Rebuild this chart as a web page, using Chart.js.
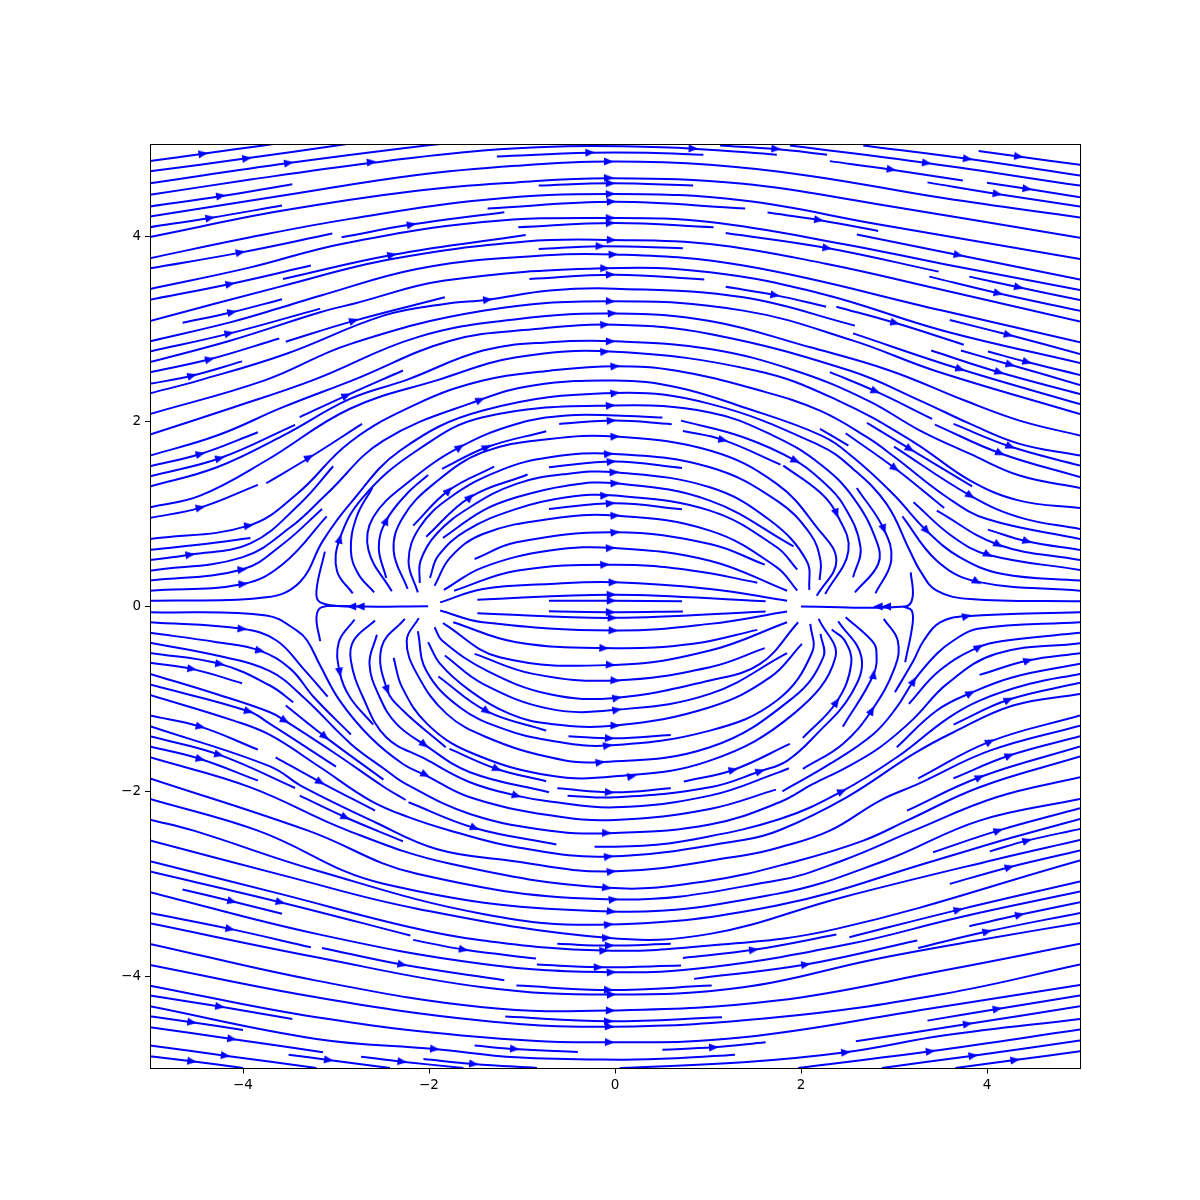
<!DOCTYPE html>
<html><head><meta charset="utf-8"><style>html,body{margin:0;padding:0;background:#fff}#w{width:1200px;height:1200px}</style>
<script src="https://cdn.jsdelivr.net/npm/chart.js@4"></script></head>
<body><div id="w"><canvas id="c" width="1200" height="1200"></canvas></div>
<script>
const tickValues=[-4,-2,0,2,4];
const upperOuterLines=[
[[-5,4.82],[-4.43,4.90],[-3.78,4.99],[-3.5,5.03]],
[[-5,4.71],[-3.96,4.85],[-2.99,4.99],[-2.7,5.03]],
[[-5,4.58],[-3.51,4.80],[-2.03,4.99],[-1.7,5.02]],
[[-5,4.455],[-3.92,4.62],[-2.63,4.80],[-1.42,4.935],[-0.52,4.98],[0.09,4.98],[0.84,4.955],[1.74,4.89]],
[[-1.27,4.87],[-0.27,4.91],[0.35,4.91],[0.95,4.89]],
[[-5,4.33],[-4.24,4.44],[-3.47,4.57]],
[[-5,4.22],[-3.57,4.447],[-2.13,4.67],[-1.06,4.77],[-0.07,4.815],[1.02,4.78],[2.10,4.66],[3.53,4.42],[5,4.21]],
[[-5,4.105],[-4.355,4.205],[-3.58,4.34]],
[[-5,4.0],[-3.57,4.285],[-2.13,4.5],[-1.06,4.59],[-0.05,4.635],[1.38,4.575],[2.81,4.357],[5,3.99]],
[[-0.82,4.555],[-0.05,4.58],[0.84,4.556]],
[[-5,3.66],[-4.03,3.83],[-3.04,4.036]],
[[-5,3.77],[-3.92,3.996],[-2.85,4.195],[-1.42,4.40],[0,4.465],[1.38,4.393],[2.81,4.14],[5,3.76]],
[[-2.94,3.996],[-2.19,4.133],[-1.19,4.267]],
[[-1.37,4.307],[0,4.38],[1.40,4.307]],
[[1.64,4.263],[2.19,4.184],[2.83,4.065]],
[[2.31,4.82],[2.96,4.73],[3.74,4.61]],
[[3.36,4.59],[4.11,4.465],[5,4.33]],
[[4.0,4.585],[4.43,4.52],[5,4.43]],
[[3.91,4.93],[4.34,4.87],[5,4.78]],
[[1.13,4.99],[1.73,4.95],[2.28,4.89]],
[[1.88,4.99],[3.35,4.80],[5,4.555]],
[[2.67,4.99],[3.79,4.845],[5,4.664]],
[[-5,3.436],[-3.92,3.67],[-2.94,3.924],[-1.42,4.16],[0,4.205],[1.02,4.16],[2.45,3.924],[3.53,3.707],[5,3.426]],
[[-1.04,4.104],[0,4.15],[1.06,4.104]],
[[-5,3.32],[-4.14,3.49],[-3.27,3.69]],
[[-3.57,3.545],[-2.40,3.805],[-0.96,4.02]],
[[-5,3.09],[-3.57,3.47],[-2.40,3.76],[-0.96,3.95],[-0.05,3.967],[1.02,3.924],[2.28,3.707],[3.48,3.436],[5,3.085]],
[[-0.82,3.87],[-0.16,3.9],[0.73,3.877]],
[[1.19,4.043],[2.28,3.88],[3.48,3.624]],
[[2.60,4.025],[3.69,3.805],[5,3.538]],
[[3.81,3.57],[4.34,3.455],[5,3.317]],
[[3.38,3.57],[4.12,3.39],[5,3.2]],
[[-4.65,3.07],[-4.12,3.185],[-3.58,3.325]],
[[-5,2.87],[-4.14,3.075],[-3.58,3.238],[-3.17,3.364],[-2.13,3.653],[-1.06,3.78],[0,3.81],[1.38,3.69],[3.53,3.2],[5,2.859]],
[[-5,2.76],[-4.14,2.956],[-3.17,3.224]],
[[-5,2.645],[-4.14,2.876],[-3.17,3.184],[-2.80,3.28],[-1.83,3.527],[-0.13,3.66],[1.02,3.617],[2.24,3.38],[3.53,2.985],[5,2.635]],
[[-3.54,2.866],[-2.80,3.094],[-1.83,3.346]],
[[-0.92,3.545],[0,3.59],[0.96,3.54]],
[[-5,2.535],[-4.36,2.675],[-3.61,2.90]],
[[-5,2.41],[-4.56,2.495],[-4.01,2.653]],
[[-5,2.307],[-4.46,2.45],[-3.54,2.733],[-2.49,3.148],[-1.83,3.274],[-1.37,3.32],[-0.70,3.42],[0,3.44],[1.38,3.346],[2.58,3.04]],
[[1.19,3.46],[1.72,3.37],[2.27,3.245]],
[[2.38,3.245],[3.01,3.07],[3.75,2.833]],
[[3.60,3.10],[4.23,2.94],[5,2.733]],
[[4.01,2.76],[4.43,2.646],[5,2.505]],
[[3.72,2.77],[4.25,2.617],[5,2.397]],
[[3.40,2.77],[4.13,2.535],[5,2.30]],
[[2.56,2.956],[3.71,2.57],[5,2.19]],
[[-5,2.083],[-3.76,2.45],[-2.85,2.84],[-1.42,3.2],[-0.05,3.303],[1.38,3.202],[2.56,2.877],[3.44,2.552],[5,2.083]],
[[-5,1.86],[-4.10,2.157],[-3.24,2.453],[-2.13,2.913],[-1.06,3.11],[0,3.17],[1.02,3.09],[2.10,2.805],[2.96,2.552],[3.76,2.229],[4.35,2.012],[5,1.85]],
[[-5,1.633],[-4.28,1.85],[-3.57,2.157],[-2.81,2.453],[-1.77,2.877],[-0.88,3.0],[0,3.05],[1.02,2.95],[2.53,2.552],[3.28,2.229],[3.82,1.976],[4.35,1.76],[5,1.633]],
[[-5,1.518],[-4.46,1.65],[-3.84,1.886]],
[[-5,1.41],[-4.25,1.604],[-3.44,1.966]],
[[-3.39,2.05],[-2.89,2.283],[-2.28,2.554]],
[[-5,1.298],[-4.28,1.507],[-3.57,1.85],[-2.85,2.247],[-2.24,2.453],[-1.42,2.77],[-0.70,2.86],[0,2.87],[1.02,2.787],[1.94,2.552],[2.72,2.229],[3.28,1.904],[3.82,1.651],[4.35,1.417],[5,1.283]],
[[-5,1.074],[-4.46,1.2],[-3.75,1.58],[-2.85,2.14],[-1.90,2.453],[-1.06,2.697],[0,2.757],[1.52,2.552],[2.40,2.229],[3.21,1.78],[3.82,1.363],[4.35,1.146],[5,1.067]],
[[-5,0.958],[-4.46,1.07],[-3.84,1.316]],
[[-3.75,1.334],[-3.28,1.615],[-2.72,1.976]],
[[2.31,2.536],[2.80,2.33],[3.41,2.03]]
];
const upperInnerLines=[
[[-5,0.73],[-3.94,0.875],[-3.42,1.218],[-2.85,1.778],[-2.13,2.193],[-1.42,2.446],[-0.70,2.552],[0,2.6],[0.663,2.552],[1.56,2.337],[2.204,2.12],[2.71,1.832],[3.01,1.615],[3.57,1.182],[4.0,0.947],[5,0.731]],
[[-5,0.615],[-4.46,0.67],[-3.92,0.742]],
[[-5,0.503],[-4.57,0.561],[-3.92,0.684],[-3.39,1.11],[-3.03,1.518]],
[[-5,0.388],[-4.01,0.532],[-3.49,0.857],[-3.10,1.218],[-2.49,1.796],[-1.45,2.236],[-0.88,2.392],[0,2.446],[0.663,2.373],[1.38,2.157],[2.22,1.85],[2.56,1.615],[2.99,1.218],[3.35,0.821],[3.71,0.532],[4.17,0.352],[5,0.28]],
[[-5,0.28],[-4.01,0.4],[-3.57,0.677],[-3.15,1.056]],
[[-5,0.171],[-4.0,0.244],[-3.57,0.46],[-3.1,0.976]],
[[-5,0.063],[-3.75,0.099],[-3.39,0.262],[-3.14,0.713],[-2.85,1.11],[-2.31,1.688],[-1.42,2.121],[0,2.31],[1.02,2.193],[2.204,1.742],[2.56,1.489],[2.92,1.11],[3.17,0.604],[3.28,0.388],[3.46,0.171],[3.82,0.081],[5,0.056]],
[[-2.82,0.142],[-2.99,0.388],[-2.96,0.731],[-2.71,1.182],[-2.13,1.688],[-1.42,2.049],[0,2.175],[1.02,2.10],[1.7,1.85],[2.204,1.543],[2.56,1.182],[2.81,0.713],[2.83,0.46],[2.58,0.153]],
[[-2.61,1.283],[-2.78,0.966],[-2.84,0.605],[-2.76,0.352],[-2.59,0.153]],
[[-2.40,0.164],[-2.65,0.605],[-2.60,0.966],[-2.20,1.363],[-1.67,1.724],[-1.06,1.976],[-0.52,2.067],[0,2.067],[0.51,2.045]],
[[-2.46,0.309],[-2.54,0.641],[-2.46,0.93],[-2.24,1.218],[-2.01,1.424]],
[[-1.86,1.489],[-1.38,1.724],[-0.74,1.897]],
[[-0.60,1.976],[0,2.012],[0.61,1.973]],
[[-2.23,0.19],[-2.38,0.605],[-2.28,0.966],[-1.95,1.327],[-1.42,1.67],[-0.70,1.814],[0,1.839],[1.02,1.688],[1.74,1.327],[2.17,0.857],[2.38,0.496],[2.17,0.117]],
[[-2.17,0.875],[-1.79,1.254],[-1.30,1.514]],
[[-2.12,0.153],[-2.22,0.496],[-2.10,0.857],[-1.77,1.182],[-1.24,1.471],[-0.70,1.615],[0,1.651],[1.02,1.507],[1.74,1.146],[2.10,0.785],[2.21,0.496],[2.2,0.287]],
[[-2.03,0.756],[-1.56,1.182],[-0.94,1.428]],
[[-0.71,1.507],[0,1.568],[0.72,1.5]],
[[-2.10,0.254],[-2.09,0.496],[-1.92,0.785],[-1.56,1.074],[-1.06,1.327],[-0.52,1.435],[0,1.453],[1.02,1.29],[1.67,0.93],[2.06,0.496],[2.09,0.179]],
[[-1.85,0.742],[-1.42,1.038],[-1.06,1.182],[-0.52,1.308],[0,1.334],[1.02,1.146],[1.92,0.651]],
[[-1.99,0.309],[-1.90,0.55],[-1.6,0.821],[-1.06,1.056],[-0.52,1.182],[0,1.2],[1.02,1.038],[1.74,0.641],[1.96,0.399]],
[[-0.71,1.056],[0,1.117],[0.72,1.052]],
[[-1.94,0.225],[-1.77,0.532],[-1.42,0.785],[-0.70,0.948],[0,0.984],[1.02,0.821],[1.74,0.424],[1.96,0.171]],
[[-1.51,0.514],[-1.06,0.695],[0,0.803],[1.02,0.677],[1.61,0.453]],
[[-1.84,0.179],[-1.42,0.424],[-0.70,0.605],[0,0.633],[1.02,0.496],[1.85,0.171]],
[[-1.73,0.171],[-1.06,0.388],[0,0.453],[0.84,0.388],[1.53,0.258]],
[[-1.88,0.045],[-1.42,0.19],[-0.70,0.244],[0,0.262],[1.02,0.19],[1.85,0.063]],
[[-1.48,0.074],[0,0.128],[1.62,0.056]],
[[-0.71,0.063],[0,0.063],[0.72,0.056]],
[[0.71,2.012],[1.38,1.832],[1.94,1.579],[2.204,1.38],[2.45,1.11],[2.64,0.641],[2.56,0.316]],
[[0.73,1.9],[1.16,1.803],[1.78,1.536]],
[[1.81,1.525],[2.204,1.236],[2.38,1.009],[2.51,0.605],[2.26,0.135]],
[[2.60,1.283],[2.89,0.839],[2.97,0.496],[2.8,0.142]],
[[2.204,1.922],[2.51,1.742]],
[[2.48,1.875],[3.01,1.496],[3.54,1.066]],
[[2.71,1.987],[3.17,1.705],[3.84,1.301]],
[[3.0,1.731],[3.82,1.2],[4.35,0.965],[5,0.839]],
[[3.44,1.969],[4.14,1.659],[5,1.4]],
[[3.64,1.976],[4.25,1.731],[5,1.525]],
[[4.01,0.832],[4.43,0.706],[5,0.612]],
[[3.46,1.038],[4.12,0.669],[5,0.503]],
[[3.21,1.128],[3.64,0.749],[4.01,0.561],[5,0.395]],
[[3.09,0.976],[3.46,0.496],[3.89,0.269],[5,0.171]],
[[3.18,0.37],[3.2,0.1],[3.12,0.0],[2.0,0]],
[[-3.12,0.594],[-3.21,0.171],[-3.17,0.045],[-2.85,0.002],[-2.01,0.002]]
];
const lowerInnerLines=[
[[-3.17,-0.375],[-3.21,-0.115],[-3.15,-0.007],[-2.85,0]],
[[3.12,-0.603],[3.2,-0.188],[3.19,-0.043],[3.1,0]],
[[-5,-0.061],[-3.75,-0.097],[-3.42,-0.26],[-3.31,-0.368],[-3.17,-0.639],[-2.96,-1.018],[-2.63,-1.415],[-2.28,-1.704],[-2.03,-1.83],[-1.56,-2.065],[-0.70,-2.26],[0,-2.311],[1.02,-2.191],[1.73,-1.982]],
[[-5,-0.17],[-4.01,-0.242],[-3.64,-0.368],[-3.35,-0.675],[-3.09,-0.975]],
[[-5,-0.285],[-4.28,-0.386],[-3.82,-0.477],[-3.49,-0.675],[-3.24,-0.98],[-2.84,-1.386]],
[[-5,-0.393],[-4.28,-0.531],[-3.71,-0.70],[-3.35,-0.982],[-2.84,-1.487],[-2.48,-1.758],[-2.25,-1.92],[-1.56,-2.245],[-0.70,-2.426],[0,-2.451],[1.02,-2.36],[1.77,-2.119],[2.13,-1.92],[2.49,-1.74],[2.85,-1.523],[3.21,-1.216],[3.57,-0.837],[4.10,-0.512],[5,-0.397]],
[[-5,-0.502],[-4.25,-0.621],[-3.71,-0.855],[-3.46,-1.036]],
[[-3.54,-1.072],[-3.12,-1.408],[-2.49,-1.874]],
[[-5,-0.61],[-4.55,-0.675],[-4.01,-0.83]],
[[-5,-0.729],[-4.28,-0.95],[-3.71,-1.144],[-3.55,-1.235],[-3,-1.596],[-2.48,-1.956],[-2.25,-2.094]],
[[-5,-0.845],[-3.94,-1.134],[-3.71,-1.27],[-3,-1.733]],
[[-2.80,-0.141],[-2.97,-0.386],[-2.96,-0.711],[-2.85,-0.982],[-2.60,-1.278]],
[[-2.58,-0.152],[-2.81,-0.368],[-2.84,-0.585],[-2.71,-0.982],[-2.46,-1.415],[-2.04,-1.65],[-1.56,-1.902],[-1.06,-2.047],[-0.70,-2.11],[0,-2.173],[1.02,-2.047],[1.76,-1.795],[1.87,-1.75]],
[[-2.56,-0.307],[-2.64,-0.621],[-2.53,-0.982],[-2.35,-1.27],[-2.05,-1.494],[-1.56,-1.794],[-0.71,-2.011]],
[[-0.51,-2.047],[0,-2.065],[1.02,-1.957],[1.56,-1.783],[1.85,-1.67],[2.17,-1.379],[2.54,-0.946],[2.65,-0.549],[2.40,-0.159]],
[[-2.26,-0.134],[-2.51,-0.44],[-2.45,-0.902],[-2.28,-1.126],[-1.82,-1.523]],
[[-2.38,-0.556],[-2.29,-0.873],[-2.02,-1.27],[-1.56,-1.577],[-0.70,-1.83],[0,-1.838],[1.02,-1.668],[1.92,-1.162],[2.37,-0.549],[2.19,-0.134]],
[[-1.78,-1.541],[-1.27,-1.758],[-0.74,-1.891]],
[[-0.62,-1.968],[0,-2.011],[0.60,-1.968]],
[[-0.71,-0.051],[0,-0.061],[0.73,-0.054]],
[[-1.48,-0.072],[0,-0.123],[1.62,-0.054]],
[[-1.88,-0.043],[-1.42,-0.17],[0,-0.26],[1.02,-0.188],[1.85,-0.054]],
[[-1.74,-0.17],[-1.06,-0.386],[0,-0.451],[0.84,-0.404],[1.53,-0.253]],
[[-1.85,-0.18],[-1.24,-0.549],[0,-0.632],[1.02,-0.477],[1.85,-0.17]],
[[-1.51,-0.513],[-0.88,-0.729],[0,-0.801],[1.02,-0.657],[1.61,-0.451]],
[[-1.94,-0.224],[-1.86,-0.368],[-1.38,-0.693],[-0.70,-0.95],[0,-0.989],[1.02,-0.8],[1.56,-0.621],[1.97,-0.17]],
[[-1.83,-0.53],[-1.42,-0.837],[-0.70,-1.108],[0,-1.119],[1.02,-0.946],[1.85,-0.505]],
[[-2.01,-0.386],[-1.88,-0.621],[-1.56,-0.91],[-1.13,-1.162],[-0.70,-1.27],[0,-1.289],[1.02,-1.09],[1.67,-0.765],[2.01,-0.404]],
[[-1.90,-0.758],[-1.38,-1.133],[-0.74,-1.343]],
[[-0.50,-1.404],[0,-1.426],[0.60,-1.39]],
[[-2.12,-0.267],[-2.03,-0.693],[-1.67,-1.09],[-1.2,-1.325],[-0.70,-1.45],[-0.08,-1.505],[1.02,-1.343],[1.74,-1.018],[2.12,-0.495],[2.10,-0.188]],
[[-2.11,-0.126],[-2.24,-0.368],[-2.13,-0.729],[-1.81,-1.162],[-1.38,-1.415],[-0.70,-1.632],[-0.18,-1.686],[1.02,-1.524],[1.92,-0.982],[2.24,-0.549],[2.21,-0.296]],
[[0.74,-1.895],[1.27,-1.769],[1.88,-1.487]],
[[2.02,-1.422],[2.38,-1.036],[2.54,-0.621],[2.47,-0.368],[2.33,-0.25]],
[[2.45,-1.3],[2.78,-0.736],[2.81,-0.476],[2.76,-0.368],[2.48,-0.116]],
[[2.02,-1.758],[2.45,-1.487],[2.76,-1.126],[3.01,-0.657],[3.04,-0.368],[2.89,-0.134]],
[[1.80,-2.0],[2.31,-1.704],[2.78,-1.379],[3.03,-1.09],[3.21,-0.808],[3.46,-0.512],[3.64,-0.368],[3.9,-0.24],[5,-0.17]],
[[3.01,-0.928],[3.21,-0.585],[3.32,-0.368],[3.5,-0.17],[3.78,-0.105],[5,-0.061]],
[[3.16,-1.054],[3.49,-0.693],[3.91,-0.44],[4.21,-0.368],[5,-0.285]],
[[3.92,-0.74],[4.44,-0.585],[5,-0.505]],
[[3.03,-1.523],[3.46,-1.126],[3.82,-0.938],[4.28,-0.765],[5,-0.62]],
[[3.64,-1.278],[4.23,-1.01],[5,-0.826]],
[[3.26,-1.859],[4.03,-1.462],[5,-1.18]],
[[3.64,-1.859],[4.24,-1.613],[5,-1.404]],
[[3.14,-2.209],[3.92,-1.848],[5,-1.516]]
];
const lowerOuterLines=[
[[-5,-0.957],[-4.10,-1.235],[-3.71,-1.39],[-3.17,-1.74],[-2.63,-2.10],[-2.22,-2.28],[-1.77,-2.426],[-1.06,-2.605],[-0.07,-2.706],[1.38,-2.527],[1.774,-2.419],[2.49,-2.065],[3.21,-1.595],[3.64,-1.361],[4.28,-1.072],[5,-0.946]],
[[-5,-1.18],[-4.46,-1.3],[-3.84,-1.549]],
[[-3.65,-1.632],[-3.17,-1.9],[-2.58,-2.209]],
[[-5,-1.296],[-3.71,-1.73],[-3.35,-1.956],[-2.58,-2.335],[-1.92,-2.624],[-1.18,-2.743],[-0.04,-2.868],[1.38,-2.695],[1.774,-2.606],[2.31,-2.426],[2.85,-2.10],[3.26,-1.92],[4.03,-1.56],[5,-1.289]],
[[-5,-1.404],[-4.26,-1.603],[-3.44,-1.964]],
[[-5,-1.516],[-4.46,-1.65],[-3.84,-1.884]],
[[-5,-1.632],[-3.92,-1.957],[-2.87,-2.426],[-1.77,-2.785],[-0.07,-3.045],[1.0,-2.97],[1.97,-2.751],[2.67,-2.534],[3.14,-2.317],[3.92,-1.956],[5,-1.624]],
[[-3.39,-2.047],[-2.90,-2.281],[-2.28,-2.541]],
[[-5,-1.86],[-3.30,-2.426],[-2.13,-2.893],[-0.02,-3.171],[1.74,-2.966],[2.44,-2.751],[3.21,-2.426],[4.10,-2.065],[5,-1.848]],
[[-5,-2.083],[-3.84,-2.426],[-2.49,-3.0],[-0.04,-3.30],[1.74,-3.11],[2.90,-2.751],[3.92,-2.317],[5,-2.083]],
[[-5,-2.307],[-4.53,-2.426],[-3.21,-2.857],[-1.42,-3.327],[-0.07,-3.442],[1.74,-3.236],[3.46,-2.743],[4.28,-2.498],[5,-2.30]],
[[-5,-2.532],[-3.57,-2.91],[-2.13,-3.27],[-0.09,-3.586],[1.02,-3.543],[2.45,-3.146],[4.07,-2.743],[5,-2.527]],
[[-2.22,-2.119],[-1.51,-2.397],[-0.63,-2.576]],
[[-0.22,-2.6],[0.3,-2.59],[0.81,-2.527],[1.774,-2.30],[2.44,-2.0],[3.03,-1.632],[3.57,-1.216],[3.92,-1.018],[4.46,-0.837],[5,-0.729]],
[[3.42,-2.66],[4.12,-2.426],[5,-2.184]],
[[4.03,-2.65],[4.43,-2.534],[5,-2.408]],
[[-4.65,-3.063],[-4.12,-3.19],[-3.58,-3.326]],
[[-5,-2.868],[-3.6,-3.2],[-2.2,-3.561]],
[[-2.17,-3.608],[-1.63,-3.713],[-0.85,-3.81]],
[[-5,-2.756],[-3.6,-3.11],[-2.2,-3.471],[-1.42,-3.615],[-0.13,-3.724],[1.02,-3.67],[2.38,-3.489],[5,-2.749]],
[[-5,-3.092],[-3.21,-3.543],[-1.42,-3.868],[-0.04,-3.958],[1.02,-3.904],[2.53,-3.651],[3.71,-3.363],[5,-3.085]],
[[-5,-3.316],[-4.14,-3.489],[-3.27,-3.688]],
[[-3.15,-3.695],[-2.29,-3.875],[-1.19,-4.045]],
[[-5,-3.428],[-3.21,-3.796],[-1.42,-4.121],[-0.04,-4.2],[1.38,-4.121],[2.81,-3.814],[3.89,-3.615],[5,-3.424]],
[[-0.84,-3.875],[-0.18,-3.904],[0.71,-3.886]],
[[-0.62,-3.651],[-0.07,-3.67],[0.6,-3.651]],
[[-1.06,-4.103],[-0.05,-4.15],[1.04,-4.103]],
[[-5,-3.651],[-3.21,-4.049],[-1.42,-4.337],[-0.04,-4.373],[1.74,-4.265],[3.53,-3.94],[5,-3.651]],
[[-5,-3.879],[-3.21,-4.229],[-1.42,-4.482],[-0.05,-4.547],[1.74,-4.446],[3.53,-4.193],[5,-3.875]],
[[-1.18,-4.438],[-0.07,-4.489],[1.15,-4.446]],
[[-5,-4.103],[-3.21,-4.446],[-1.42,-4.662],[-0.05,-4.716],[1.38,-4.662],[3.36,-4.355],[5,-4.095]],
[[-5,-4.211],[-4.25,-4.33],[-3.47,-4.464]],
[[-5,-4.327],[-3.21,-4.68],[-1.94,-4.789],[-1.06,-4.879],[0.05,-4.904],[0.66,-4.89],[1.29,-4.85]],
[[-5,-4.435],[-4.55,-4.5],[-4.0,-4.583]],
[[-5,-4.554],[-4.12,-4.68],[-3.14,-4.825]],
[[-5,-4.752],[-4.19,-4.861],[-3.21,-4.994]],
[[-5,-4.868],[-4.55,-4.922],[-4.0,-4.994]],
[[-3.51,-4.85],[-3.08,-4.908],[-2.42,-4.994]],
[[-2.73,-4.872],[-2.29,-4.926],[-1.63,-4.994]],
[[-2.06,-4.897],[-1.52,-4.951],[-0.84,-4.994]],
[[-1.51,-4.752],[-1.08,-4.788],[-0.40,-4.821]],
[[0.51,-4.796],[1.06,-4.771],[1.62,-4.716]],
[[0.05,-4.994],[1.38,-4.933],[2.48,-4.825],[3.53,-4.644],[5,-4.464]],
[[1.97,-4.994],[3.39,-4.814],[5,-4.579]],
[[2.87,-4.994],[3.85,-4.861],[5,-4.698]],
[[3.66,-4.994],[4.30,-4.908],[5,-4.814]],
[[2.59,-4.706],[3.79,-4.518],[5,-4.327]],
[[3.36,-4.482],[4.11,-4.355],[5,-4.211]],
[[3.26,-3.695],[4.0,-3.518],[5,-3.316]],
[[3.81,-3.46],[4.35,-3.337],[5,-3.2]],
[[2.52,-3.579],[3.69,-3.283],[5,-2.976]],
[[0.85,-4.03],[2.05,-3.875],[3.25,-3.615]],
[[0.73,-3.803],[1.49,-3.716],[2.38,-3.55]],
[[3.6,-3.002],[4.24,-2.821],[5,-2.641]]
];
const upperArrows=[[-4.43,4.90],[-3.96,4.85],[-3.51,4.80],[-2.62,4.81],[-0.27,4.913],[-0.07,4.815],[-0.07,4.639],[-0.05,4.58],[-0.05,4.465],[-0.04,4.382],[-4.24,4.444],[-4.355,4.205],[-2.19,4.133],[-0.05,4.205],[-0.05,4.15],[-4.03,3.833],[-2.40,3.805],[-0.04,3.967],[-0.16,3.9],[-0.02,3.81],[-4.14,3.49],[-0.11,3.66],[-0.05,3.592],[-1.37,3.32],[-0.05,3.303],[-0.03,3.173],[-0.11,3.05],[-4.12,3.185],[-4.15,2.956],[-2.81,3.094],[-4.36,2.675],[-0.05,2.87],[-0.11,2.757],[0,2.6],[-4.55,2.498],
[0.84,4.956],[1.73,4.953],[2.97,4.73],[3.35,4.80],[3.79,4.845],[4.34,4.87],[4.11,4.465],[4.43,4.52],[2.19,4.184],[2.28,3.88],[3.69,3.805],[4.34,3.455],[4.12,3.39],[1.72,3.37],[3.01,3.07],[4.23,2.94],[3.71,2.57],[4.13,2.535],[4.25,2.617],[4.43,2.646],
[-4.46,1.65],[-4.25,1.604],[-2.89,2.283],[-1.45,2.236],[-3.29,1.615],[-4.46,1.07],[-3.94,0.875],[-4.57,0.561],[-4.01,0.4],[-4.0,0.244],[-1.67,1.724],[-1.38,1.724],[-1.79,1.254],[-1.56,1.182],
[-0.0,2.31],[-0.05,2.175],[-0.04,2.012],[0,1.839],[-0.07,1.651],[-0.04,1.568],[-0.01,1.453],[0,1.334],[-0.11,1.2],[-0.05,1.117],[0,0.984],[0,0.803],[-0.05,0.633],[-0.11,0.453],[-0.02,0.262],[-0.04,0.128],[-0.04,0.063],
[2.80,2.33],[3.17,1.705],[3.01,1.496],[4.25,1.731],[4.14,1.659],[1.16,1.803],[1.94,1.579],[3.35,0.821],[3.82,1.2],[4.12,0.669],[4.43,0.706],[4.01,0.561],[3.89,0.269]];
const lowerArrows=[[-4.01,-0.242],[-3.82,-0.477],[-4.25,-0.621],[-4.55,-0.675],[-3.94,-1.134],[-3.55,-1.235],[-3.12,-1.408],[-4.46,-1.3],[-4.26,-1.603],[-4.46,-1.65],[-3.17,-1.9],[-2.90,-2.281],[-1.51,-2.397],[-2.04,-1.82],[-2.05,-1.494],[-1.38,-1.133],[-1.27,-1.758],[-1.06,-2.047],
[-0.05,-0.061],[-0.03,-0.123],[-0.02,-0.26],[-0.12,-0.451],[-0.05,-0.632],[0,-0.801],[0.02,-0.989],[0.02,-1.119],[0,-1.289],[-0.06,-1.426],[-0.08,-1.505],[-0.16,-1.686],[0.18,-1.838],[-0.06,-2.011],[-0.09,-2.451],
[1.27,-1.769],[1.56,-1.783],[2.44,-2.0],[3.21,-0.808],[3.78,-0.105],[3.91,-0.44],[3.82,-0.938],[4.23,-1.01],[4.44,-0.585],[4.03,-1.462],[4.24,-1.613],[3.92,-1.848],
[-0.07,-2.706],[-0.04,-2.868],[-0.09,-3.045],[-0.02,-3.171],[-0.04,-3.301],[-0.07,-3.442],[-0.09,-3.586],[-0.06,-3.67],[-0.12,-3.724],[-0.18,-3.904],[-0.04,-3.958],[-0.07,-4.15],[-0.04,-4.2],[-0.05,-4.373],[-0.07,-4.489],[-0.06,-4.547],[-0.06,-4.716],[-4.12,-3.19],[-3.60,-3.2],[-4.14,-3.489],[-1.63,-3.713],[-2.29,-3.875],[-4.25,-4.33],[-4.55,-4.5],[-4.12,-4.68],[-4.19,-4.861],[-4.55,-4.922],[-3.08,-4.908],[-2.29,-4.926],[-1.52,-4.951],[-1.94,-4.789],[-1.08,-4.788],
[3.69,-3.283],[4.35,-3.337],[4.0,-3.518],[4.24,-2.821],[4.43,-2.534],[4.12,-2.426],[1.49,-3.716],[2.05,-3.875],[4.11,-4.355],[3.79,-4.518],[2.48,-4.825],[3.39,-4.814],[3.85,-4.861],[4.30,-4.908],[1.06,-4.771]];
// x, y, heading in degrees (clockwise on screen) for arrows that do not point rightward
const turnedArrows=[[-2.46,0.93,-65],[-2.96,0.731,-75],[2.38,1.009,70],[2.89,0.839,70],[-2.83,0,180],[-2.74,0,180],[2.83,0,180],[2.92,0,180],[-2.45,-0.902,70],[-2.96,-0.711,80],[2.38,-1.036,-55],[2.78,-0.736,-80],[2.76,-1.126,-60]];

const allLines=[...upperOuterLines,...upperInnerLines,...lowerInnerLines,...lowerOuterLines];
function heading(px,py){
  let best=1e9,ang=0;
  for(const l of allLines)for(let i=0;i<l.length-1;i++){
    const [ax,ay]=l[i],[bx,by]=l[i+1],dx=bx-ax,dy=by-ay;
    const t=Math.max(0,Math.min(1,((px-ax)*dx+(py-ay)*dy)/(dx*dx+dy*dy||1)));
    const d=Math.hypot(ax+t*dx-px,ay+t*dy-py);
    if(d<best){best=d;const s=dx<0?-1:1;ang=Math.atan2(-dy*s,dx*s)*180/Math.PI;}
  }
  return ang;
}
const head=document.createElement('canvas');head.width=11;head.height=11;
const hc=head.getContext('2d');hc.fillStyle='#0000ff';hc.beginPath();hc.moveTo(10.5,5.5);hc.lineTo(1,1.5);hc.lineTo(1,9.5);hc.closePath();hc.fill();
const arrowRows=[...upperArrows,...lowerArrows].map(a=>[a[0],a[1],heading(a[0],a[1])]).concat(turnedArrows);
const datasets=allLines.map(l=>({type:'scatter',data:l.map(p=>({x:p[0],y:p[1]})),showLine:true,borderColor:'#0000ff',borderWidth:2,pointRadius:0,tension:0.4,fill:false}));
datasets.push({type:'scatter',data:arrowRows.map(a=>({x:a[0],y:a[1]})),showLine:false,pointStyle:head,pointRadius:5,pointRotation:arrowRows.map(a=>a[2])});
const frame={id:'frame',afterDraw(c){const a=c.chartArea,g=c.ctx;g.save();g.strokeStyle='#000';g.lineWidth=1;g.strokeRect(Math.floor(a.left)+.5,Math.floor(a.top)+.5,Math.round(a.width),Math.round(a.height));g.restore();}};
const axis=(fit)=>({type:'linear',min:-5,max:5,afterBuildTicks(s){s.ticks=tickValues.map(v=>({value:v}));},afterFit:fit,
  grid:{drawOnChartArea:false,drawTicks:true,tickLength:5,tickColor:'#000',tickWidth:1},border:{display:false},
  ticks:{color:'#000',font:{family:'DejaVu Sans',size:13.5},padding:4,maxRotation:0,autoSkip:false,callback:v=>String(v).replace('-','\u2212')}});
new Chart(document.getElementById('c'),{type:'scatter',data:{datasets},plugins:[frame],options:{responsive:false,animation:false,
 layout:{padding:{left:0,top:144.5,right:120,bottom:0}},
 plugins:{legend:{display:false},tooltip:{enabled:false}},events:[],
 scales:{x:axis(s=>{s.height=131.5;}),y:axis(s=>{s.width=150;})}}});
</script></body></html>
